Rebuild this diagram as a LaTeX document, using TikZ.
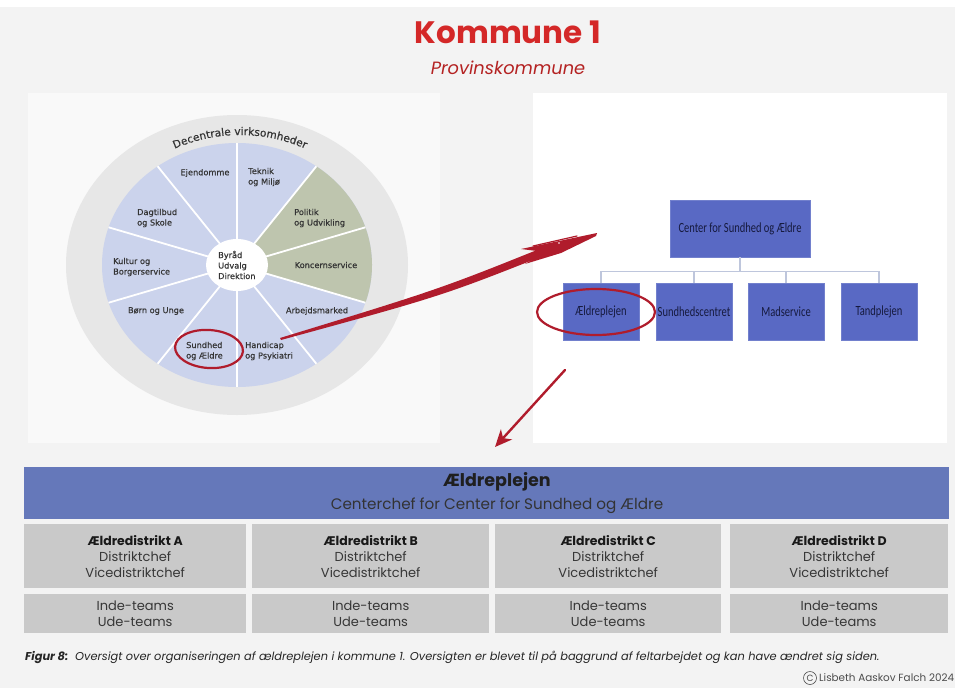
\documentclass[tikz,border=0pt]{standalone}
\usepackage{fontspec}
\setmainfont{Poppins}
\newfontfamily\piefont[FakeBold=0.4]{DejaVu Sans}
\newfontfamily\orgfont[FakeStretch=0.75]{Carlito}
\usetikzlibrary{decorations.text,calc,arrows.meta,shapes.geometric}

\definecolor{paper}{RGB}{243,243,243}
\definecolor{panel}{RGB}{249,249,249}
\definecolor{ringgrey}{RGB}{231,231,231}
\definecolor{pieblue}{RGB}{203,211,236}
\definecolor{piegreen}{RGB}{190,197,174}
\definecolor{pietext}{RGB}{52,52,52}
\definecolor{orgblue}{RGB}{89,105,196}
\definecolor{orgtext}{RGB}{22,26,62}
\definecolor{orgline}{RGB}{190,198,220}
\definecolor{hdrblue}{RGB}{101,120,186}
\definecolor{cellgrey}{RGB}{201,201,201}
\definecolor{celltext}{RGB}{55,55,55}
\definecolor{marker}{RGB}{176,28,44}
\definecolor{titlered}{RGB}{212,40,40}

\tikzset{
  pielabel/.style={font=\piefont\fontsize{8.2}{10.5}\selectfont, text=pietext, inner sep=0pt, align=left},
  orgbox/.style={fill=orgblue, draw=orgblue!85!white, line width=0.8, inner sep=0pt,
    minimum width=76, minimum height=57, text=orgtext, font=\orgfont\fontsize{14}{16}\selectfont},
  busline/.style={draw=orgline, line width=1.4},
  ring/.style={ellipse, draw=marker, line width=2.2, inner sep=0pt},
  cell/.style={fill=cellgrey, inner sep=0pt, anchor=north west, align=center,
    text=celltext, font=\fontsize{13}{16}\selectfont},
  pen/.style={draw=marker, line cap=round, line join=round},
}
\newcommand{\districtname}[1]{{\fontsize{12.5}{16}\selectfont\bfseries\color{black!90}#1}}

\begin{document}
\begin{tikzpicture}[x=1pt,y=-1pt]
% paper and panels
\fill[paper] (0,0) rectangle (955,688);
\useasboundingbox (0,0) rectangle (955,688);
\fill[white] (0,0) rectangle (955,7);
\fill[panel] (28,93) rectangle (440,443);
\fill[white] (533,93) rectangle (947,443);

% heading
\node[anchor=base, font=\fontsize{31}{36}\selectfont\bfseries, text=titlered] (title) at (508,43) {Kommune 1};
\node[anchor=base, font=\fontsize{17.8}{20}\selectfont\itshape, text=titlered!85!black] (subtitle) at (508,74) {Provinskommune};

% municipal wheel
\begin{scope}[shift={(237,265)}, y=1pt]
  \fill[ringgrey] (0,0) ellipse [x radius=171, y radius=150];
  \fill[pieblue] (0,0) ellipse [x radius=135, y radius=122];
  \fill[piegreen] (0,0) -- (-18:135 and 122) arc[start angle=-18, end angle=54, x radius=135, y radius=122] -- cycle;
  \foreach \a in {90,54,...,-234}
    \draw[white, line width=1.8] (0,0) -- (\a:135 and 122);
  \fill[white] (0,0) ellipse [x radius=31, y radius=26];
\end{scope}

% ring caption set along a circular arc
\begin{scope}[shift={(240,297)}, y=1pt]
  \path[decorate, decoration={text along path, text align=center,
    text={|\piefont\fontsize{10.6}{12}\selectfont\color{pietext}|Decentrale virksomheder}}]
    (120:162) arc[start angle=120, end angle=60, radius=162];
\end{scope}

\node[pielabel, anchor=west] (byraad) at (218,265) {Byråd\\Udvalg\\Direktion};
\node[pielabel] (ejendomme) at (205,173) {Ejendomme};
\node[pielabel, anchor=west] (teknik) at (248,177) {Teknik\\og Miljø};
\node[pielabel, anchor=west] (politik) at (294,218) {Politik\\og Udvikling};
\node[pielabel] (koncern) at (326,265) {Koncernservice};
\node[pielabel] (arbejd) at (317,311) {Arbejdsmarked};
\node[pielabel, anchor=west] (handicap) at (245,351) {Handicap\\og Psykiatri};
\node[pielabel, anchor=west] (sundhed) at (186,351) {Sundhed\\og Ældre};
\node[pielabel] (boern) at (156,311) {Børn og Unge};
\node[pielabel, anchor=west] (kultur) at (113,267) {Kultur og\\Borgerservice};
\node[pielabel, anchor=west] (dagtilbud) at (137,218) {Dagtilbud\\og Skole};

\node[ring, minimum width=68, minimum height=38, rotate=-4] (ringA) at (209,349) {};

% organisation chart of the centre
\node[orgbox, minimum width=140] (csa) at (740,228.5) {Center for Sundhed og Ældre};
\node[orgbox] (b1) at (601,311.5) {Ældreplejen};
\node[orgbox] (b2) at (694,311.5) {Sundhedscentret};
\node[orgbox] (b3) at (786,311.5) {Madservice};
\node[orgbox] (b4) at (879,311.5) {Tandplejen};
\foreach \b in {b1,b2,b3,b4}
  \draw[busline] (csa.south) -- ($(csa.south)+(0,14)$) -| (\b.north);

\node[ring, minimum width=118, minimum height=46] (ringB) at (596,312) {};

% hand-drawn arrows
\coordinate (tailA) at (280,338);
\coordinate (tipA) at (597,233);
\fill[marker] (tailA) .. controls (440,289) .. ($(tipA)+(-45,11)$)
  -- ($(tipA)+(-44,19)$) .. controls (442,296) .. ($(tailA)+(1,2)$) -- cycle;
\fill[marker] (tipA) -- ($(tipA)+(-76,16)$) -- ($(tipA)+(-52,19)$)
  -- ($(tipA)+(-72,31)$) -- ($(tipA)+(-36,20)$) -- ($(tipA)+(-1,3)$) -- cycle;
\draw[pen, line width=1.2] ($(tipA)+(-64,13)$) -- ($(tipA)+(-20,3)$);
\fill[white] ($(tipA)+(-38,10)$) circle[radius=0.9];

\coordinate (tailB) at (565,370);
\coordinate (tipB) at (495,447);
\draw[pen, line width=2.4, -{Stealth[length=17pt, width=15pt, inset=5pt]}] (tailB) -- (tipB);

% table of the elderly care districts
\node[fill=hdrblue, minimum width=925, minimum height=52, inner sep=0pt, anchor=north west] (hdr) at (24,467) {};
\node[font=\fontsize{17.5}{20}\selectfont\bfseries, text=black!88] (hdrtitle) at (497,482) {Ældreplejen};
\node[font=\fontsize{15.2}{18}\selectfont, text=black!80] (hdrsub) at (497,506) {Centerchef for Center for Sundhed og Ældre};

\node[cell, minimum width=222, minimum height=64] (dA) at (24,524) {\districtname{Ældredistrikt A}\\Distriktchef\\Vicedistriktchef};
\node[cell, minimum width=237, minimum height=64] (dB) at (252,524) {\districtname{Ældredistrikt B}\\Distriktchef\\Vicedistriktchef};
\node[cell, minimum width=226, minimum height=64] (dC) at (495,524) {\districtname{Ældredistrikt C}\\Distriktchef\\Vicedistriktchef};
\node[cell, minimum width=218, minimum height=64] (dD) at (730,524) {\districtname{Ældredistrikt D}\\Distriktchef\\Vicedistriktchef};

\node[cell, minimum width=222, minimum height=39] (tA) at (24,594) {Inde-teams\\Ude-teams};
\node[cell, minimum width=237, minimum height=39] (tB) at (252,594) {Inde-teams\\Ude-teams};
\node[cell, minimum width=226, minimum height=39] (tC) at (495,594) {Inde-teams\\Ude-teams};
\node[cell, minimum width=218, minimum height=39] (tD) at (730,594) {Inde-teams\\Ude-teams};

% caption and credit
\node[anchor=base west, inner sep=0pt, font=\fontsize{11.4}{13}\selectfont\itshape, text=black!85] (caption) at (25,660)
  {\textbf{Figur 8:}\ \ Oversigt over organiseringen af ældreplejen i kommune 1. Oversigten er blevet til på baggrund af feltarbejdet og kan have ændret sig siden.};
\node[circle, draw=black!70, line width=0.6, minimum size=13, inner sep=0pt, font=\fontsize{9}{10}\selectfont, text=black!70] (copy) at (810,678) {C};
\node[anchor=west, inner sep=0pt, font=\fontsize{10.4}{12}\selectfont, text=black!70] (credit) at (819,678) {Lisbeth Aaskov Falch 2024};
\end{tikzpicture}
\end{document}
